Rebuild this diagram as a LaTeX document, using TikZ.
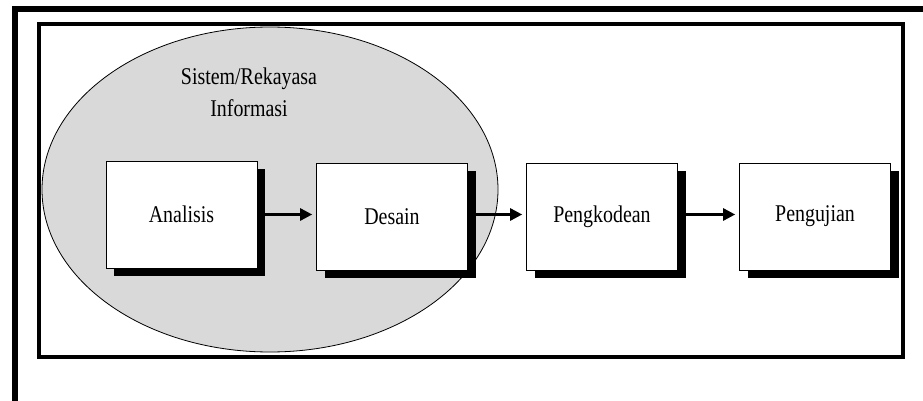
\documentclass[tikz,border=0pt]{standalone}
\usepackage{fontspec}
\setmainfont{Liberation Serif}[FakeStretch=0.83]
\usetikzlibrary{arrows.meta,shadows}

\definecolor{ellipsefill}{RGB}{217,217,217}

\tikzset{
  procbox/.style={draw, fill=white, line width=0.6pt, inner sep=0pt,
    minimum width=151pt, minimum height=107pt,
    font=\fontsize{24}{28}\selectfont,
    drop shadow={shadow xshift=8pt, shadow yshift=-8pt, fill=black, opacity=1}},
  flowarrow/.style={line width=2.5pt, -{Triangle[length=12pt,width=12pt]}, shorten >=4pt}
}

\begin{document}
\begin{tikzpicture}[x=1pt, y=-1pt]
                \useasboundingbox (0,0) rectangle (923,401);

                % Drawing outer frame (left and top only)
                \draw [line width=6pt] (15,401) -- (15,9.5) -- (923,9.5);%

                % Drawing inner frame
                \draw [line width=4pt] (39,24) rectangle (903,357);%

                % Drawing ellipse for the system part
                \draw [line width=0.8pt, fill=ellipsefill] (270,189.5) ellipse [x radius=228, y radius=162.5];%
                \node [align=center, font=\fontsize{24}{32}\selectfont] (sistem) at (249,92) {Sistem/Rekayasa\\Informasi};%

                % Marking the four process boxes
                \node [procbox] (analisis) at (181.5,214.5) {Analisis};%
                \node [procbox] (desain) at (392,216.5) {Desain};%
                \node [procbox] (pengkodean) at (602,216.5) {Pengkodean};%
                \node [procbox] (pengujian) at (815,216.5) {Pengujian};%

                % Drawing arrows between boxes
                \draw [flowarrow] (analisis.east) -- (analisis.east -| desain.west);%
                \draw [flowarrow] (desain.east |- analisis.east) -- (analisis.east -| pengkodean.west);%
                \draw [flowarrow] (pengkodean.east |- analisis.east) -- (analisis.east -| pengujian.west);%
\end{tikzpicture}
\end{document}
